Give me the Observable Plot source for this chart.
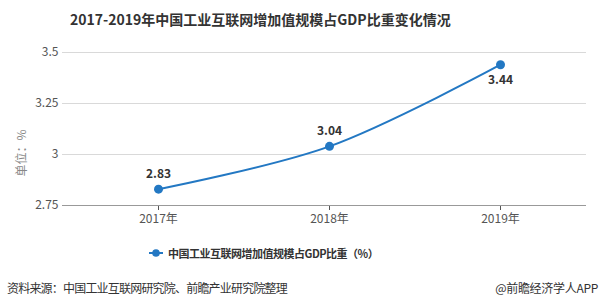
<!DOCTYPE html>
<html><head><meta charset="utf-8">
<script src="https://cdn.jsdelivr.net/npm/d3@7"></script>
<script src="https://cdn.jsdelivr.net/npm/@observablehq/plot@0.6"></script>
<style>
body{margin:0;width:602px;height:305px;background:#fff;font-family:"Noto Sans CJK SC","Noto Sans",sans-serif;overflow:hidden;position:relative}
#title{position:absolute;left:70px;top:9px;font-size:14px;font-weight:bold;color:#333;white-space:nowrap;letter-spacing:0px}
#chart{position:absolute;left:0;top:35px}
#ylab{position:absolute;left:20px;top:153px;transform:translate(-50%,-50%) rotate(-90deg);font-size:12px;color:#888;white-space:nowrap}
#legend{position:absolute;left:149px;top:245px;font-size:11px;font-weight:bold;color:#333;display:flex;align-items:center;white-space:nowrap;letter-spacing:-0.5px}
#legend svg{margin-right:5px}
#src{position:absolute;left:7px;top:279px;font-size:12px;color:#333;white-space:nowrap;letter-spacing:-0.8px}
#app{position:absolute;right:4px;top:279px;font-size:12px;color:#333;white-space:nowrap;letter-spacing:-0.3px}
</style></head><body>
<div id="title">2017-2019年中国工业互联网增加值规模占GDP比重变化情况</div>
<div id="chart"></div>
<div id="ylab">单位：%</div>
<div id="legend"><svg width="14" height="10"><line x1="0" y1="5" x2="14" y2="5" stroke="#2378c3" stroke-width="2"/><circle cx="7" cy="5" r="3.8" fill="#2378c3"/></svg>中国工业互联网增加值规模占GDP比重（%）</div>
<div id="src">资料来源：中国工业互联网研究院、前瞻产业研究院整理</div>
<div id="app">@前瞻经济学人APP</div>
<script>
const years = ["2017年","2018年","2019年"];
const values = [2.83, 3.04, 3.44];
const yTicks = [2.75, 3, 3.25, 3.5];
const labelAbove = [true, true, false];
const data = years.map((y,i)=>({year:y, value:values[i], above:labelAbove[i]}));
const color = "#2378c3";
const chart = Plot.plot({
  width: 602, height: 195,
  marginLeft: 72, marginRight: 16, marginTop: 17, marginBottom: 25,
  style:{fontFamily:'"Noto Sans CJK SC","Noto Sans",sans-serif', fontSize:"12px", color:"#555"},
  x:{type:"point", domain: years, padding:0.5, label:null, tickSize:5, tickPadding:4},
  y:{domain:[2.75,3.5], ticks: yTicks, label:null, tickSize:0, tickPadding:14, tickFormat:d=>String(d)},
  marks:[
    Plot.ruleY(yTicks.slice(1), {stroke:"#d9d9d9", insetLeft:-10}),
    Plot.ruleY([2.75], {stroke:"#999", insetLeft:-10}),
    Plot.line(data, {x:"year", y:"value", stroke:color, strokeWidth:2, curve:"catmull-rom"}),
    Plot.dot(data, {x:"year", y:"value", fill:color, r:4.5}),
    Plot.text(data.filter(d=>d.above), {x:"year", y:"value", text:d=>d.value.toFixed(2), dy:-15, fontWeight:"bold", fontSize:12, fill:"#333"}),
    Plot.text(data.filter(d=>!d.above), {x:"year", y:"value", text:d=>d.value.toFixed(2), dy:15, fontWeight:"bold", fontSize:12, fill:"#333"})
  ]
});
document.getElementById("chart").appendChild(chart);
</script>
</body></html>
